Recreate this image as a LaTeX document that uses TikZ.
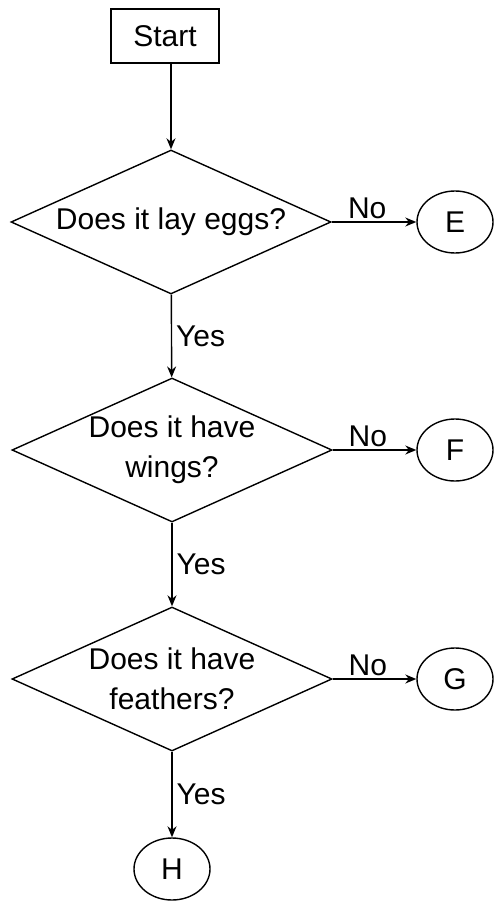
\documentclass[tikz,border=0pt]{standalone}
\usepackage{fontspec}
\setmainfont{Liberation Sans}
\usetikzlibrary{shapes.geometric, arrows.meta}

\tikzset{
	startbox/.style={draw, rectangle, minimum width=108pt, minimum height=54pt, inner sep=0pt},
	ask/.style={draw, diamond, aspect=2.2, minimum width=320pt, minimum height=144pt, inner sep=0pt, align=center},
	leaf/.style={draw, ellipse, minimum width=76pt, minimum height=62pt, inner sep=0pt},
	flow/.style={-{Stealth[length=11pt, width=9pt]}},
	yes/.style={right, midway, inner sep=4pt},
	no/.style={above, pos=0.42, inner sep=3pt}
}

\begin{document}
\begin{tikzpicture}[x=1pt, y=-1pt, line width=1.4pt, every node/.style={font=\fontsize{30}{40}\selectfont}]
	\useasboundingbox (0,0) rectangle (494,901);

	\node[startbox] (start) at (165,36) {Start};
	\node[ask] (eggs) at (171,222) {Does it lay eggs?};
	\node[ask] (wings) at (172,450) {Does it have\\wings?};
	\node[ask] (feathers) at (172,679) {Does it have\\feathers?};
	\node[leaf] (E) at (455,222) {E};
	\node[leaf] (F) at (455,450) {F};
	\node[leaf] (G) at (455,679) {G};
	\node[leaf] (H) at (172,869) {H};

	\draw[flow] (start.south -| eggs.north) -- (eggs);
	\draw[flow] (eggs) -- node[yes] {Yes} (wings);
	\draw[flow] (wings) -- node[yes] {Yes} (feathers);
	\draw[flow] (feathers) -- node[yes] {Yes} (H);
	\draw[flow] (eggs) -- node[no] {No} (E);
	\draw[flow] (wings) -- node[no] {No} (F);
	\draw[flow] (feathers) -- node[no] {No} (G);
\end{tikzpicture}
\end{document}
